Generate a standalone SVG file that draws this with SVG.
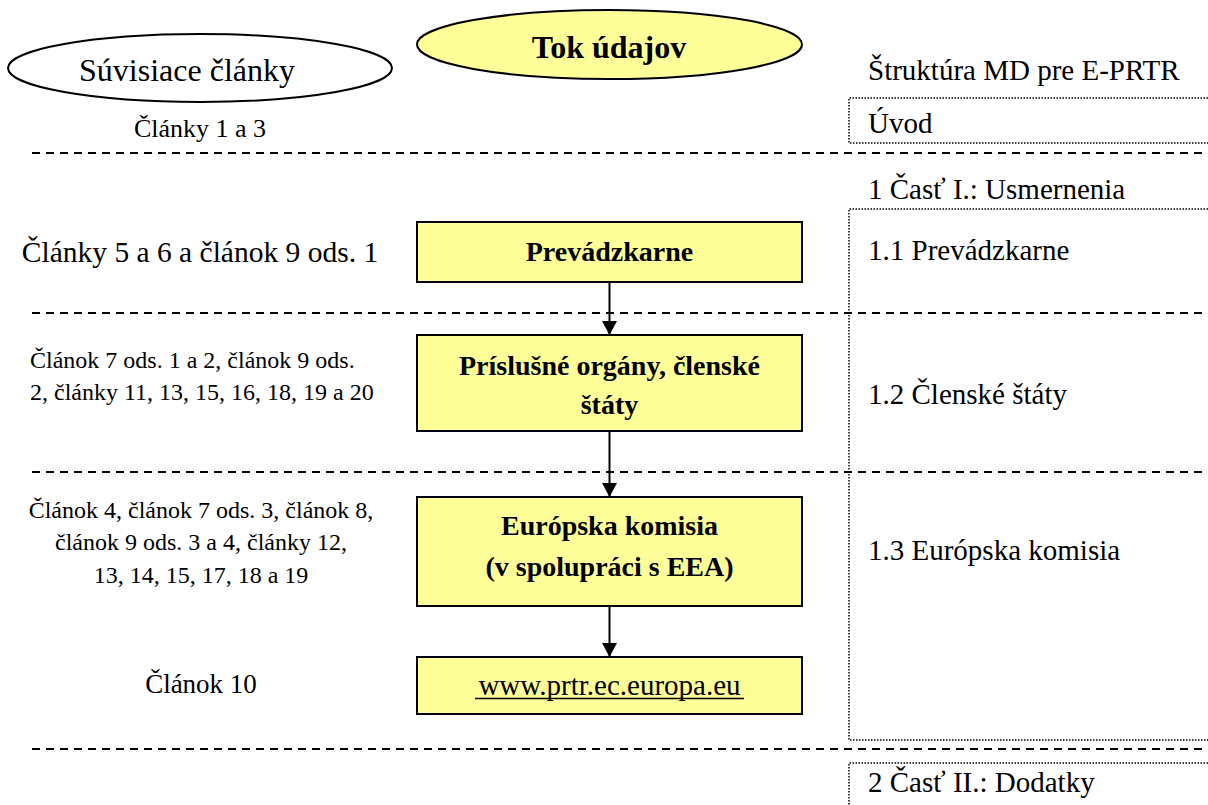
<svg xmlns="http://www.w3.org/2000/svg" width="1208" height="805" viewBox="0 0 1208 805">
<style>
text{font-family:"Liberation Serif","Times New Roman",serif;fill:#000}
.lt{font-size:24px}
.rt{font-size:29px}
.b{font-weight:bold}
.node{fill:#FFFF99;stroke:#000;stroke-width:2}
.sep{stroke:#000;stroke-width:2;stroke-dasharray:8 6;fill:none}
.dot{stroke:#000;stroke-width:1.5;stroke-dasharray:1.5 1.5;fill:none}
.conn{stroke:#000;stroke-width:2;fill:none}
</style>
<defs>
<marker id="ah" viewBox="0 0 14 15" refX="14" refY="7.5" markerWidth="14" markerHeight="15" markerUnits="userSpaceOnUse" orient="auto">
<path d="M0,0 L14,7.5 L0,15 Z" fill="#000"/>
</marker>
</defs>
<rect width="1208" height="805" fill="#fff"/>

<g id="separators">
<line class="sep" x1="32" y1="153" x2="1208" y2="153"/>
<line class="sep" x1="32" y1="313" x2="1208" y2="313"/>
<line class="sep" x1="32" y1="472" x2="1208" y2="472"/>
<line class="sep" x1="32" y1="749" x2="1208" y2="749"/>
</g>

<g id="header-articles">
<ellipse cx="200" cy="68" rx="192" ry="34" fill="#fff" stroke="#000" stroke-width="2"/>
<text x="187" y="81" font-size="32" text-anchor="middle">Súvisiace články</text>
</g>
<g id="header-flow">
<ellipse class="node" cx="609.5" cy="44.5" rx="192.5" ry="34.5"/>
<text x="609" y="58" font-size="32" class="b" text-anchor="middle">Tok údajov</text>
</g>
<g id="header-structure">
<text x="868" y="80" class="rt">Štruktúra MD pre E-PRTR</text>
</g>

<g id="left-labels">
<text x="200" y="137" font-size="26" text-anchor="middle">Články 1 a 3</text>
<text x="200" y="262" font-size="29.5" text-anchor="middle">Články 5 a 6 a článok 9 ods. 1</text>
<text x="30" y="368" class="lt">Článok 7 ods. 1 a 2, článok 9 ods.</text>
<text x="30" y="400" class="lt">2, články 11, 13, 15, 16, 18, 19 a 20</text>
<text x="201" y="518" class="lt" text-anchor="middle">Článok 4, článok 7 ods. 3, článok 8,</text>
<text x="201" y="550" class="lt" text-anchor="middle">článok 9 ods. 3 a 4, články 12,</text>
<text x="201" y="583" class="lt" text-anchor="middle">13, 14, 15, 17, 18 a 19</text>
<text x="201" y="693" font-size="27" text-anchor="middle">Článok 10</text>
</g>

<g id="node-prevadzkarne">
<rect class="node" x="417" y="222" width="385" height="60"/>
<text x="609.5" y="261" font-size="28" class="b" text-anchor="middle">Prevádzkarne</text>
</g>
<g id="node-organy">
<rect class="node" x="417" y="335" width="385" height="96"/>
<text x="609.5" y="375" font-size="28" class="b" text-anchor="middle">Príslušné orgány, členské</text>
<text x="609.5" y="414" font-size="28" class="b" text-anchor="middle">štáty</text>
</g>
<g id="node-komisia">
<rect class="node" x="417" y="497" width="385" height="109"/>
<text x="609.5" y="535" font-size="28" class="b" text-anchor="middle">Európska komisia</text>
<text x="609.5" y="576" font-size="28" class="b" text-anchor="middle">(v spolupráci s EEA)</text>
</g>
<g id="node-web">
<rect class="node" x="417" y="657" width="385" height="57"/>
<text x="609.5" y="695" font-size="29" text-anchor="middle">www.prtr.ec.europa.eu</text>
<line x1="475" y1="698.5" x2="744" y2="698.5" stroke="#000" stroke-width="1.5"/>
</g>

<g id="connectors">
<line class="conn" x1="609.5" y1="282" x2="609.5" y2="335" marker-end="url(#ah)"/>
<line class="conn" x1="609.5" y1="431" x2="609.5" y2="497" marker-end="url(#ah)"/>
<line class="conn" x1="609.5" y1="606" x2="609.5" y2="657" marker-end="url(#ah)"/>
</g>

<g id="struct-uvod">
<path class="dot" d="M1208,98 H849 V143 H1208"/>
<text x="868" y="133" class="rt">Úvod</text>
</g>
<g id="struct-part1">
<text x="868" y="199" class="rt">1 Časť I.: Usmernenia</text>
<path class="dot" d="M1208,209 H849 V740 H1208"/>
<text x="868" y="260" class="rt">1.1 Prevádzkarne</text>
<text x="868" y="404" class="rt">1.2 Členské štáty</text>
<text x="868" y="560" class="rt">1.3 Európska komisia</text>
</g>
<g id="struct-part2">
<path class="dot" d="M1208,763 H849 V805"/>
<text x="868" y="792" class="rt">2 Časť II.: Dodatky</text>
</g>
</svg>
